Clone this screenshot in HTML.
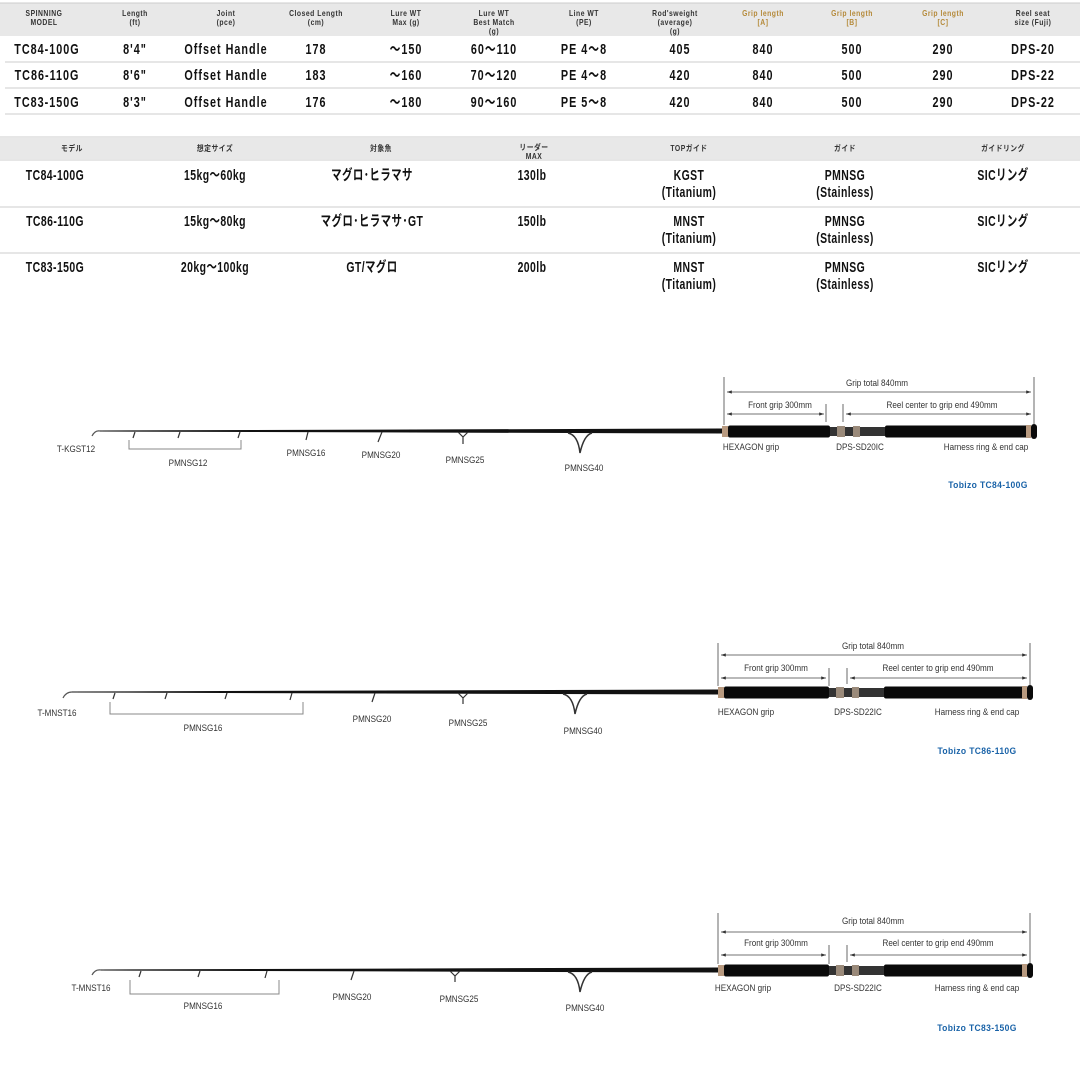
<!DOCTYPE html>
<html><head><meta charset="utf-8"><style>
body{margin:0;background:#fff;width:1080px;height:1080px;overflow:hidden}
svg{display:block}
text{font-family:"Liberation Sans","Noto Sans CJK JP",sans-serif;transform-box:fill-box;transform-origin:center}
.h{font-size:8px;fill:#333;font-weight:bold;text-anchor:middle;transform:scaleX(0.85);letter-spacing:0.6px}
.hg{font-size:8px;fill:#b58a3a;font-weight:bold;text-anchor:middle;transform:scaleX(0.85);letter-spacing:0.6px}
.d{font-size:15px;fill:#111;font-weight:bold;text-anchor:middle;transform:scaleX(0.72);letter-spacing:1.4px}
.d2{font-size:14.5px;fill:#111;font-weight:bold;text-anchor:middle;transform:scaleX(0.72);letter-spacing:0.6px}
.l{font-size:9px;fill:#333;text-anchor:middle;transform:scaleX(0.9)}
.t{font-size:9.5px;fill:#1a63a8;font-weight:bold;text-anchor:middle;transform:scaleX(0.9);letter-spacing:0.4px}
</style></head><body>
<svg width="1080" height="1080" xmlns="http://www.w3.org/2000/svg">
<defs>
<marker id="al" markerWidth="6" markerHeight="6" refX="0" refY="3" orient="auto"><path d="M6,1 L0,3 L6,5" fill="#333"/></marker>
<marker id="ar" markerWidth="6" markerHeight="6" refX="6" refY="3" orient="auto"><path d="M0,1 L6,3 L0,5" fill="#333"/></marker>
</defs>
<rect x="0" y="3" width="1080" height="33" fill="#e8e8e8"/>
<line x1="0" y1="3" x2="1080" y2="3" stroke="#ccc"/>
<g>
<text class="h" x="44" y="16">SPINNING</text><text class="h" x="44" y="25">MODEL</text>
<text class="h" x="135" y="16">Length</text><text class="h" x="135" y="25">(ft)</text>
<text class="h" x="226" y="16">Joint</text><text class="h" x="226" y="25">(pce)</text>
<text class="h" x="316" y="16">Closed Length</text><text class="h" x="316" y="25">(cm)</text>
<text class="h" x="406" y="16">Lure WT</text><text class="h" x="406" y="25">Max (g)</text>
<text class="h" x="494" y="16">Lure WT</text><text class="h" x="494" y="25">Best Match</text><text class="h" x="494" y="34">(g)</text>
<text class="h" x="584" y="16">Line WT</text><text class="h" x="584" y="25">(PE)</text>
<text class="h" x="675" y="16">Rod'sweight</text><text class="h" x="675" y="25">(average)</text><text class="h" x="675" y="34">(g)</text>
<text class="h" x="1033" y="16">Reel seat</text><text class="h" x="1033" y="25">size (Fuji)</text>
<text class="hg" x="763" y="16">Grip length</text><text class="hg" x="763" y="25">[A]</text>
<text class="hg" x="852" y="16">Grip length</text><text class="hg" x="852" y="25">[B]</text>
<text class="hg" x="943" y="16">Grip length</text><text class="hg" x="943" y="25">[C]</text>
</g>
<g stroke="#ccc"><line x1="5" y1="62" x2="1080" y2="62"/><line x1="5" y1="88" x2="1080" y2="88"/><line x1="5" y1="114" x2="1080" y2="114"/></g>
<g>
<text class="d" x="47" y="54">TC84-100G</text><text class="d" x="135" y="54">8'4"</text><text class="d" x="226" y="54">Offset Handle</text><text class="d" x="316" y="54">178</text><text class="d" x="406" y="54">～150</text><text class="d" x="494" y="54">60～110</text><text class="d" x="584" y="54">PE 4～8</text><text class="d" x="680" y="54">405</text><text class="d" x="763" y="54">840</text><text class="d" x="852" y="54">500</text><text class="d" x="943" y="54">290</text><text class="d" x="1033" y="54">DPS-20</text>
<text class="d" x="47" y="80">TC86-110G</text><text class="d" x="135" y="80">8'6"</text><text class="d" x="226" y="80">Offset Handle</text><text class="d" x="316" y="80">183</text><text class="d" x="406" y="80">～160</text><text class="d" x="494" y="80">70～120</text><text class="d" x="584" y="80">PE 4～8</text><text class="d" x="680" y="80">420</text><text class="d" x="763" y="80">840</text><text class="d" x="852" y="80">500</text><text class="d" x="943" y="80">290</text><text class="d" x="1033" y="80">DPS-22</text>
<text class="d" x="47" y="107">TC83-150G</text><text class="d" x="135" y="107">8'3"</text><text class="d" x="226" y="107">Offset Handle</text><text class="d" x="316" y="107">176</text><text class="d" x="406" y="107">～180</text><text class="d" x="494" y="107">90～160</text><text class="d" x="584" y="107">PE 5～8</text><text class="d" x="680" y="107">420</text><text class="d" x="763" y="107">840</text><text class="d" x="852" y="107">500</text><text class="d" x="943" y="107">290</text><text class="d" x="1033" y="107">DPS-22</text>
</g>
<rect x="0" y="138" width="1080" height="21" fill="#e8e8e8"/>
<line x1="0" y1="137" x2="1080" y2="137" stroke="#ccc"/>
<line x1="0" y1="160" x2="1080" y2="160" stroke="#ccc"/>
<g>
<text class="h" x="72" y="151">モデル</text><text class="h" x="215" y="151">想定サイズ</text><text class="h" x="381" y="151">対象魚</text><text class="h" x="534" y="150">リーダー</text><text class="h" x="534" y="159" font-size="6">MAX</text><text class="h" x="689" y="151">TOPガイド</text><text class="h" x="845" y="151">ガイド</text><text class="h" x="1003" y="151">ガイドリング</text>
</g>
<g stroke="#ccc"><line x1="0" y1="207" x2="1080" y2="207"/><line x1="0" y1="253" x2="1080" y2="253"/></g>
<g>
<text class="d2" x="55" y="180">TC84-100G</text><text class="d2" x="215" y="180">15kg～60kg</text><text class="d2" x="372" y="180">マグロ･ヒラマサ</text><text class="d2" x="532" y="180">130lb</text><text class="d2" x="689" y="180">KGST</text><text class="d2" x="689" y="197">(Titanium)</text><text class="d2" x="845" y="180">PMNSG</text><text class="d2" x="845" y="197">(Stainless)</text><text class="d2" x="1003" y="180">SICリング</text>
<text class="d2" x="55" y="226">TC86-110G</text><text class="d2" x="215" y="226">15kg～80kg</text><text class="d2" x="372" y="226">マグロ･ヒラマサ･GT</text><text class="d2" x="532" y="226">150lb</text><text class="d2" x="689" y="226">MNST</text><text class="d2" x="689" y="243">(Titanium)</text><text class="d2" x="845" y="226">PMNSG</text><text class="d2" x="845" y="243">(Stainless)</text><text class="d2" x="1003" y="226">SICリング</text>
<text class="d2" x="55" y="272">TC83-150G</text><text class="d2" x="215" y="272">20kg～100kg</text><text class="d2" x="372" y="272">GT/マグロ</text><text class="d2" x="532" y="272">200lb</text><text class="d2" x="689" y="272">MNST</text><text class="d2" x="689" y="289">(Titanium)</text><text class="d2" x="845" y="272">PMNSG</text><text class="d2" x="845" y="289">(Stainless)</text><text class="d2" x="1003" y="272">SICリング</text>
</g>

<!-- ROD 1 -->
<g>
<path d="M92,436 Q95,430 100,431" stroke="#555" fill="none" stroke-width="1.2"/>
<polygon points="100,430.5 722,428.5 722,433.5 100,431.5" fill="#111"/>
<g stroke="#333" fill="none" stroke-width="1.2">
<path d="M135,432 l-2,6"/><path d="M180,432 l-2,6"/><path d="M240,432 l-2,6"/><path d="M308,432 l-2,8"/><path d="M382,432 l-4,10"/><path d="M458,432 l5,5 v7 M468,432 l-5,5"/><path d="M568,433 q10,2 12,20 M592,433 q-8,2 -12,20" stroke-width="1.5"/>
</g>
<polyline points="129,440 129,449 241,449 241,440" stroke="#888" fill="none"/>
<rect x="722" y="426" width="6" height="11" fill="#b89a80"/>
<rect x="728" y="425.5" width="102" height="12" rx="2" fill="#0a0a0a"/>
<rect x="830" y="427" width="55" height="9" fill="#333"/>
<rect x="837" y="426" width="8" height="11" fill="#9a8a7a"/><rect x="853" y="426" width="7" height="11" fill="#9a8a7a"/>
<rect x="885" y="425.5" width="145" height="12" rx="2" fill="#0a0a0a"/>
<rect x="1026" y="425" width="5" height="13" fill="#b89a80"/>
<rect x="1031" y="424" width="6" height="15" rx="3" fill="#0a0a0a"/>
<g stroke="#444" stroke-width="0.8">
<line x1="724" y1="377" x2="724" y2="425"/><line x1="1034" y1="377" x2="1034" y2="424"/>
<line x1="727" y1="392" x2="1031" y2="392" marker-start="url(#al)" marker-end="url(#ar)"/>
<line x1="727" y1="414" x2="824" y2="414" marker-start="url(#al)" marker-end="url(#ar)"/>
<line x1="826" y1="404" x2="826" y2="422"/><line x1="843" y1="404" x2="843" y2="422"/>
<line x1="846" y1="414" x2="1031" y2="414" marker-start="url(#al)" marker-end="url(#ar)"/>
</g>
<g>
<text class="l" x="877" y="386">Grip total 840mm</text><text class="l" x="780" y="408">Front grip 300mm</text><text class="l" x="942" y="408">Reel center to grip end 490mm</text>
<text class="l" x="751" y="450">HEXAGON grip</text><text class="l" x="860" y="450">DPS-SD20IC</text><text class="l" x="986" y="450">Harness ring &amp; end cap</text>
<text class="l" x="76" y="452">T-KGST12</text><text class="l" x="188" y="466">PMNSG12</text><text class="l" x="306" y="456">PMNSG16</text><text class="l" x="381" y="458">PMNSG20</text><text class="l" x="465" y="463">PMNSG25</text><text class="l" x="584" y="471">PMNSG40</text>
</g>
<text class="t" x="988" y="488">Tobizo  TC84-100G</text>
</g>

<!-- ROD 2 -->
<g>
<path d="M63,698 Q66,692 72,692" stroke="#555" fill="none" stroke-width="1.2"/>
<polygon points="72,691.5 718,689.5 718,694.5 72,692.5" fill="#111"/>
<g stroke="#333" fill="none" stroke-width="1.2">
<path d="M115,693 l-2,6"/><path d="M167,693 l-2,6"/><path d="M227,693 l-2,6"/><path d="M292,693 l-2,7"/><path d="M375,693 l-3,9"/><path d="M458,693 l5,5 v6 M468,693 l-5,5"/><path d="M563,694 q10,2 12,20 M587,694 q-8,2 -12,20" stroke-width="1.5"/>
</g>
<polyline points="110,702 110,714 303,714 303,702" stroke="#888" fill="none"/>
<rect x="718" y="687" width="6" height="11" fill="#b89a80"/>
<rect x="724" y="686.5" width="105" height="12" rx="2" fill="#0a0a0a"/>
<rect x="829" y="688" width="55" height="9" fill="#333"/>
<rect x="836" y="687" width="8" height="11" fill="#9a8a7a"/><rect x="852" y="687" width="7" height="11" fill="#9a8a7a"/>
<rect x="884" y="686.5" width="142" height="12" rx="2" fill="#0a0a0a"/>
<rect x="1022" y="686" width="5" height="13" fill="#b89a80"/>
<rect x="1027" y="685" width="6" height="15" rx="3" fill="#0a0a0a"/>
<g stroke="#444" stroke-width="0.8">
<line x1="718" y1="643" x2="718" y2="686"/><line x1="1030" y1="643" x2="1030" y2="685"/>
<line x1="721" y1="655" x2="1027" y2="655" marker-start="url(#al)" marker-end="url(#ar)"/>
<line x1="721" y1="678" x2="826" y2="678" marker-start="url(#al)" marker-end="url(#ar)"/>
<line x1="829" y1="668" x2="829" y2="686"/><line x1="847" y1="668" x2="847" y2="684"/>
<line x1="850" y1="678" x2="1027" y2="678" marker-start="url(#al)" marker-end="url(#ar)"/>
</g>
<g>
<text class="l" x="873" y="649">Grip total 840mm</text><text class="l" x="776" y="671">Front grip 300mm</text><text class="l" x="938" y="671">Reel center to grip end 490mm</text>
<text class="l" x="746" y="715">HEXAGON grip</text><text class="l" x="858" y="715">DPS-SD22IC</text><text class="l" x="977" y="715">Harness ring &amp; end cap</text>
<text class="l" x="57" y="716">T-MNST16</text><text class="l" x="203" y="731">PMNSG16</text><text class="l" x="372" y="722">PMNSG20</text><text class="l" x="468" y="726">PMNSG25</text><text class="l" x="583" y="734">PMNSG40</text>
</g>
<text class="t" x="977" y="754">Tobizo  TC86-110G</text>
</g>

<!-- ROD 3 -->
<g>
<path d="M92,975 Q95,969 101,970" stroke="#555" fill="none" stroke-width="1.2"/>
<polygon points="101,969.5 718,967.5 718,972.5 101,970.5" fill="#111"/>
<g stroke="#333" fill="none" stroke-width="1.2">
<path d="M141,971 l-2,6"/><path d="M200,971 l-2,6"/><path d="M267,971 l-2,7"/><path d="M354,971 l-3,9"/><path d="M450,971 l5,5 v6 M460,971 l-5,5"/><path d="M568,972 q10,2 12,20 M592,972 q-8,2 -12,20" stroke-width="1.5"/>
</g>
<polyline points="130,980 130,994 279,994 279,980" stroke="#888" fill="none"/>
<rect x="718" y="965" width="6" height="11" fill="#b89a80"/>
<rect x="724" y="964.5" width="105" height="12" rx="2" fill="#0a0a0a"/>
<rect x="829" y="966" width="55" height="9" fill="#333"/>
<rect x="836" y="965" width="8" height="11" fill="#9a8a7a"/><rect x="852" y="965" width="7" height="11" fill="#9a8a7a"/>
<rect x="884" y="964.5" width="142" height="12" rx="2" fill="#0a0a0a"/>
<rect x="1022" y="964" width="5" height="13" fill="#b89a80"/>
<rect x="1027" y="963" width="6" height="15" rx="3" fill="#0a0a0a"/>
<g stroke="#444" stroke-width="0.8">
<line x1="718" y1="913" x2="718" y2="964"/><line x1="1030" y1="913" x2="1030" y2="963"/>
<line x1="721" y1="932" x2="1027" y2="932" marker-start="url(#al)" marker-end="url(#ar)"/>
<line x1="721" y1="955" x2="826" y2="955" marker-start="url(#al)" marker-end="url(#ar)"/>
<line x1="829" y1="945" x2="829" y2="964"/><line x1="847" y1="945" x2="847" y2="962"/>
<line x1="850" y1="955" x2="1027" y2="955" marker-start="url(#al)" marker-end="url(#ar)"/>
</g>
<g>
<text class="l" x="873" y="924">Grip total 840mm</text><text class="l" x="776" y="946">Front grip 300mm</text><text class="l" x="938" y="946">Reel center to grip end 490mm</text>
<text class="l" x="743" y="991">HEXAGON grip</text><text class="l" x="858" y="991">DPS-SD22IC</text><text class="l" x="977" y="991">Harness ring &amp; end cap</text>
<text class="l" x="91" y="991">T-MNST16</text><text class="l" x="203" y="1009">PMNSG16</text><text class="l" x="352" y="1000">PMNSG20</text><text class="l" x="459" y="1002">PMNSG25</text><text class="l" x="585" y="1011">PMNSG40</text>
</g>
<text class="t" x="977" y="1031">Tobizo  TC83-150G</text>
</g>
</svg>
</body></html>
